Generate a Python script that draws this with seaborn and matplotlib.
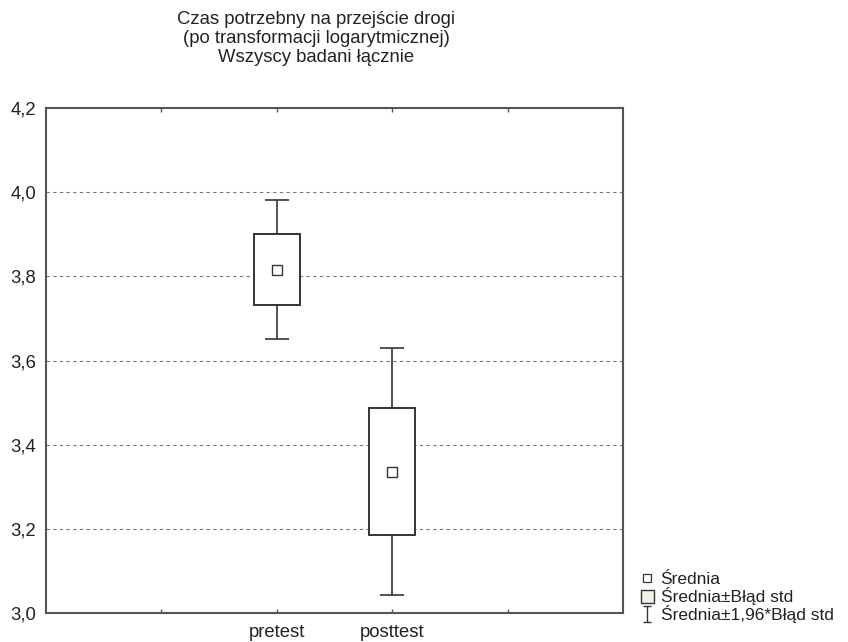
import numpy as np
import pandas as pd
import matplotlib
matplotlib.use("Agg")
import matplotlib.pyplot as plt
from matplotlib.path import Path
from matplotlib.lines import Line2D
from matplotlib.patches import Patch
import seaborn as sns

categories = ["pretest", "posttest"]
means = [3.815, 3.335]
box_low = [3.731, 3.186]
box_high = [3.900, 3.486]
whisk_low = [3.650, 3.042]
whisk_high = [3.981, 3.629]
y_ticks = [3.0, 3.2, 3.4, 3.6, 3.8, 4.0, 4.2]
title_lines = ["Czas potrzebny na przejście drogi",
               "(po transformacji logarytmicznej)",
               "Wszyscy badani łącznie"]
legend_labels = ["Średnia", "Średnia±Błąd std", "Średnia±1,96*Błąd std"]

sns.set_style("white")
plt.rcParams["font.family"] = ["Liberation Sans", "DejaVu Sans"]

FS = 13.3
LFS = 12.5

df = pd.DataFrame({"cat": categories, "mean": means})
pos = np.arange(len(categories))
df["pos"] = pos

fig = plt.figure(figsize=(8.48, 6.42), dpi=100)
ax = fig.add_axes([46 / 848, 29 / 642, 577 / 848, 505 / 642])

line_col = "#333333"
m = np.array(means)
ax.errorbar(pos, m, yerr=[m - np.array(whisk_low), np.array(whisk_high) - m],
            fmt="none", ecolor=line_col, elinewidth=1.2, capsize=8.3,
            capthick=1.2, zorder=2)
ax.bar(pos, np.array(box_high) - np.array(box_low), bottom=box_low, width=0.4,
       facecolor="white", edgecolor=line_col, linewidth=1.4, zorder=3)
sns.scatterplot(data=df, x="pos", y="mean", marker="s", s=45,
                facecolor="white", edgecolor=line_col, linewidth=1.0,
                zorder=4, ax=ax, legend=False)

ax.set_xlim(-2, 3)
ax.set_ylim(3.0, 4.2)
ax.set_xticks([-1, 0, 1, 2])
ax.set_xticklabels(["", "pretest", "posttest", ""])
ax.set_yticks(y_ticks)
ax.set_yticklabels([f"{v:.1f}".replace(".", ",") for v in y_ticks])
ax.set_xlabel("")
ax.set_ylabel("")
ax.tick_params(axis="x", direction="in", length=3, width=1, color="#555555",
               top=True, bottom=True, labelsize=FS, pad=8, labelcolor="#222222")
ax.tick_params(axis="y", length=0, labelsize=FS, pad=7, labelcolor="#222222")

for yv in y_ticks[1:-1]:
    ax.axhline(yv, color="#777777", lw=0.8, ls=(0, (3, 3)), zorder=1)

for sp in ax.spines.values():
    sp.set_visible(True)
    sp.set_color("#555555")
    sp.set_linewidth(1.5)

for i, t in enumerate(title_lines):
    fig.text(316 / 848, 1 - (20 + i * 18.5) / 642, t, ha="center", va="center",
             fontsize=FS, color="#222222")

ibar = Path([(-0.5, 1), (0.5, 1), (0, 1), (0, -1), (-0.5, -1), (0.5, -1)],
            [Path.MOVETO, Path.LINETO, Path.MOVETO, Path.LINETO,
             Path.MOVETO, Path.LINETO])
handles = [
    Line2D([], [], ls="none", marker="s", markersize=5.5, markerfacecolor="white",
           markeredgecolor=line_col, markeredgewidth=0.9),
    Patch(facecolor="#f3f0e6", edgecolor=line_col, linewidth=1.0),
    Line2D([], [], ls="none", marker=ibar, markersize=12, markerfacecolor="none",
           markeredgecolor=line_col, markeredgewidth=1.0),
]
fig.legend(handles, legend_labels, loc="lower left",
           bbox_to_anchor=(632 / 848, 10 / 642), frameon=False, fontsize=LFS,
           handlelength=0.75, handleheight=0.75, handletextpad=0.4,
           labelspacing=0.0, borderpad=0, labelcolor="#222222")

fig.savefig("out.png", dpi=100)
